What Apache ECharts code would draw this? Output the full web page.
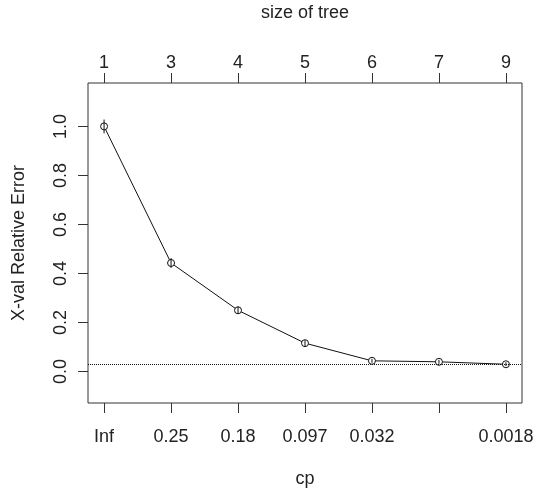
<!DOCTYPE html>
<html>
<head>
<meta charset="utf-8">
<script src="https://cdn.jsdelivr.net/npm/echarts@6/dist/echarts.min.js"></script>
<style>
  html, body { margin: 0; padding: 0; background: #fff; }
  #chart { width: 533px; height: 491px; }
</style>
</head>
<body>
<div id="chart"></div>
<script>
// positions 1..7 along the x axis
const positions = [1, 2, 3, 4, 5, 6, 7];
const cpLabels = ['Inf', '0.25', '0.18', '0.097', '0.032', '', '0.0018'];
const treeSizes = ['1', '3', '4', '5', '6', '7', '9'];
const xerror = [1.0, 0.443, 0.25, 0.116, 0.044, 0.040, 0.030];
const xstdLow = [0.972, 0.423, 0.235, 0.104, 0.036, 0.032, 0.022];
const xstdHigh = [1.028, 0.463, 0.265, 0.128, 0.052, 0.048, 0.038];
const yTicks = [0, 0.2, 0.4, 0.6, 0.8, 1.0];
const refLine = 0.033;

const FONT = 'Liberation Sans';
const TXT = '#222';

const chart = echarts.init(document.getElementById('chart'));

chart.setOption({
    backgroundColor: '#fff',
    animation: false,
    textStyle: { fontFamily: FONT },
    grid: {
        left: 88, right: 11, top: 83, bottom: 88,
        outerBoundsMode: 'none', containLabel: false,
        show: true, borderColor: '#333', borderWidth: 1, backgroundColor: 'transparent'
    },
    xAxis: [{
        type: 'value', position: 'bottom', min: 0.76, max: 7.24,
        name: 'cp', nameLocation: 'middle', nameGap: 67,
        nameTextStyle: { fontSize: 18, color: TXT, fontFamily: FONT },
        axisLine: { show: false, onZero: false },
        splitLine: { show: false },
        axisTick: { show: true, length: 10, lineStyle: { color: '#333' }, customValues: positions },
        axisLabel: {
            fontSize: 18, color: TXT, margin: 25,
            customValues: positions,
            formatter: v => cpLabels[Math.round(v) - 1]
        }
    }, {
        type: 'value', position: 'top', min: 0.76, max: 7.24,
        name: 'size of tree', nameLocation: 'middle', nameGap: 61,
        nameTextStyle: { fontSize: 18, color: TXT, fontFamily: FONT },
        axisLine: { show: false, onZero: false },
        splitLine: { show: false },
        axisTick: { show: true, length: 10, lineStyle: { color: '#333' }, customValues: positions },
        axisLabel: {
            fontSize: 18, color: TXT, margin: 11,
            customValues: positions,
            formatter: v => treeSizes[Math.round(v) - 1]
        }
    }],
    yAxis: {
        type: 'value', min: -0.128, max: 1.177,
        name: 'X-val Relative Error', nameLocation: 'middle', nameGap: 60,
        nameTextStyle: { fontSize: 18, color: TXT, fontFamily: FONT },
        axisLine: { show: false, onZero: false },
        splitLine: { show: false },
        axisTick: { show: true, length: 10, lineStyle: { color: '#333' }, customValues: yTicks },
        axisLabel: {
            fontSize: 18, color: TXT, margin: 18, rotate: 90,
            customValues: yTicks,
            formatter: v => v.toFixed(1)
        }
    },
    series: [{
        type: 'line',
        data: positions.map((p, i) => [p, xerror[i]]),
        symbol: 'circle', symbolSize: 7,
        itemStyle: { color: '#fff', borderColor: '#111', borderWidth: 1 },
        lineStyle: { color: '#111', width: 1 },
        markLine: {
            silent: true, symbol: 'none', label: { show: false },
            lineStyle: { color: '#111', type: 'dotted', width: 1 },
            data: [{ yAxis: refLine }]
        },
        z: 3
    }, {
        type: 'custom',
        data: positions.map((p, i) => [p, xstdLow[i], xstdHigh[i]]),
        renderItem: (params, api) => {
            const a = api.coord([api.value(0), api.value(1)]);
            const b = api.coord([api.value(0), api.value(2)]);
            return {
                type: 'line',
                shape: { x1: a[0], y1: a[1], x2: b[0], y2: b[1] },
                style: { stroke: '#111', lineWidth: 1 }
            };
        },
        z: 4
    }]
});
</script>
</body>
</html>
